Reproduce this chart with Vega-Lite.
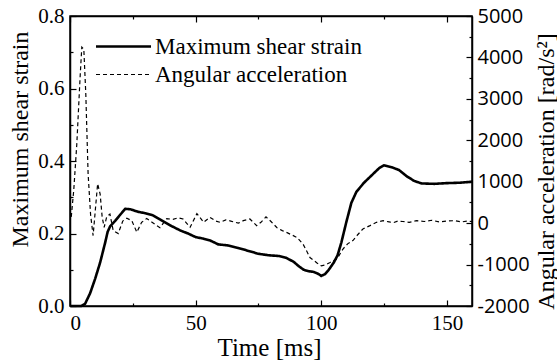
{
  "$schema": "https://vega.github.io/schema/vega-lite/v6.json",
  "width": 402,
  "height": 290,
  "autosize": "none",
  "padding": {"left": 70, "top": 16, "right": 85, "bottom": 58},
  "background": "white",
  "config": {
    "view": {"stroke": "black", "strokeWidth": 1.5},
    "axis": {
      "grid": false,
      "domainColor": "black",
      "domainWidth": 1.5,
      "tickColor": "black",
      "tickWidth": 1.2,
      "labelColor": "black",
      "titleColor": "black",
      "labelFont": "Liberation Serif",
      "titleFont": "Liberation Serif",
      "titleFontWeight": "normal"
    }
  },
  "data": {
    "values": [
      {"series": "Maximum shear strain", "t": 0, "v": 0},
      {"series": "Maximum shear strain", "t": 4.5, "v": 0},
      {"series": "Maximum shear strain", "t": 6, "v": 0.006},
      {"series": "Maximum shear strain", "t": 8, "v": 0.035},
      {"series": "Maximum shear strain", "t": 10, "v": 0.075},
      {"series": "Maximum shear strain", "t": 12, "v": 0.12},
      {"series": "Maximum shear strain", "t": 14, "v": 0.175},
      {"series": "Maximum shear strain", "t": 15, "v": 0.205},
      {"series": "Maximum shear strain", "t": 16, "v": 0.22},
      {"series": "Maximum shear strain", "t": 18, "v": 0.235},
      {"series": "Maximum shear strain", "t": 20, "v": 0.252},
      {"series": "Maximum shear strain", "t": 22, "v": 0.268},
      {"series": "Maximum shear strain", "t": 24, "v": 0.267},
      {"series": "Maximum shear strain", "t": 27, "v": 0.26},
      {"series": "Maximum shear strain", "t": 30, "v": 0.256},
      {"series": "Maximum shear strain", "t": 33, "v": 0.25},
      {"series": "Maximum shear strain", "t": 36, "v": 0.238},
      {"series": "Maximum shear strain", "t": 40, "v": 0.222},
      {"series": "Maximum shear strain", "t": 44, "v": 0.208},
      {"series": "Maximum shear strain", "t": 47, "v": 0.2},
      {"series": "Maximum shear strain", "t": 50, "v": 0.19},
      {"series": "Maximum shear strain", "t": 53, "v": 0.186},
      {"series": "Maximum shear strain", "t": 56, "v": 0.18},
      {"series": "Maximum shear strain", "t": 59, "v": 0.17},
      {"series": "Maximum shear strain", "t": 63, "v": 0.167},
      {"series": "Maximum shear strain", "t": 67, "v": 0.16},
      {"series": "Maximum shear strain", "t": 71, "v": 0.152},
      {"series": "Maximum shear strain", "t": 75, "v": 0.144},
      {"series": "Maximum shear strain", "t": 79, "v": 0.14},
      {"series": "Maximum shear strain", "t": 83, "v": 0.138},
      {"series": "Maximum shear strain", "t": 86, "v": 0.133},
      {"series": "Maximum shear strain", "t": 89, "v": 0.122},
      {"series": "Maximum shear strain", "t": 91, "v": 0.11},
      {"series": "Maximum shear strain", "t": 93, "v": 0.1},
      {"series": "Maximum shear strain", "t": 95, "v": 0.096},
      {"series": "Maximum shear strain", "t": 97, "v": 0.094},
      {"series": "Maximum shear strain", "t": 99, "v": 0.088},
      {"series": "Maximum shear strain", "t": 100, "v": 0.083},
      {"series": "Maximum shear strain", "t": 101.5, "v": 0.088},
      {"series": "Maximum shear strain", "t": 103, "v": 0.1},
      {"series": "Maximum shear strain", "t": 105, "v": 0.12},
      {"series": "Maximum shear strain", "t": 106.5, "v": 0.14},
      {"series": "Maximum shear strain", "t": 108, "v": 0.175},
      {"series": "Maximum shear strain", "t": 110, "v": 0.232},
      {"series": "Maximum shear strain", "t": 112, "v": 0.285},
      {"series": "Maximum shear strain", "t": 114, "v": 0.315},
      {"series": "Maximum shear strain", "t": 117, "v": 0.34},
      {"series": "Maximum shear strain", "t": 120, "v": 0.36},
      {"series": "Maximum shear strain", "t": 123, "v": 0.38},
      {"series": "Maximum shear strain", "t": 125, "v": 0.388},
      {"series": "Maximum shear strain", "t": 128, "v": 0.383},
      {"series": "Maximum shear strain", "t": 131, "v": 0.375},
      {"series": "Maximum shear strain", "t": 134, "v": 0.358},
      {"series": "Maximum shear strain", "t": 137, "v": 0.345},
      {"series": "Maximum shear strain", "t": 140, "v": 0.338},
      {"series": "Maximum shear strain", "t": 145, "v": 0.337},
      {"series": "Maximum shear strain", "t": 150, "v": 0.339},
      {"series": "Maximum shear strain", "t": 155, "v": 0.34},
      {"series": "Maximum shear strain", "t": 160, "v": 0.343},
      {"series": "Angular acceleration", "t": 0.5, "v": 150},
      {"series": "Angular acceleration", "t": 1.5, "v": 800},
      {"series": "Angular acceleration", "t": 2.7, "v": 1900},
      {"series": "Angular acceleration", "t": 4, "v": 3500},
      {"series": "Angular acceleration", "t": 4.7, "v": 4250},
      {"series": "Angular acceleration", "t": 5.5, "v": 4200},
      {"series": "Angular acceleration", "t": 6.3, "v": 3100},
      {"series": "Angular acceleration", "t": 7.2, "v": 1200},
      {"series": "Angular acceleration", "t": 8.2, "v": 200},
      {"series": "Angular acceleration", "t": 9.2, "v": -300},
      {"series": "Angular acceleration", "t": 10.2, "v": 400},
      {"series": "Angular acceleration", "t": 11, "v": 950},
      {"series": "Angular acceleration", "t": 12, "v": 700},
      {"series": "Angular acceleration", "t": 12.8, "v": 150},
      {"series": "Angular acceleration", "t": 13.6, "v": -100},
      {"series": "Angular acceleration", "t": 14.6, "v": 150},
      {"series": "Angular acceleration", "t": 15.9, "v": 220},
      {"series": "Angular acceleration", "t": 17.2, "v": -180},
      {"series": "Angular acceleration", "t": 19.2, "v": -250},
      {"series": "Angular acceleration", "t": 21, "v": 50},
      {"series": "Angular acceleration", "t": 22.6, "v": 120},
      {"series": "Angular acceleration", "t": 24.6, "v": 60},
      {"series": "Angular acceleration", "t": 26.6, "v": -220},
      {"series": "Angular acceleration", "t": 28.5, "v": 20},
      {"series": "Angular acceleration", "t": 30.5, "v": 110},
      {"series": "Angular acceleration", "t": 32.5, "v": 30},
      {"series": "Angular acceleration", "t": 34.5, "v": -60},
      {"series": "Angular acceleration", "t": 35.8, "v": -110},
      {"series": "Angular acceleration", "t": 38.5, "v": 110},
      {"series": "Angular acceleration", "t": 41, "v": 90},
      {"series": "Angular acceleration", "t": 43, "v": 130},
      {"series": "Angular acceleration", "t": 45, "v": 100},
      {"series": "Angular acceleration", "t": 47.8, "v": -100},
      {"series": "Angular acceleration", "t": 50.5, "v": 230},
      {"series": "Angular acceleration", "t": 53.2, "v": 20},
      {"series": "Angular acceleration", "t": 55.7, "v": 140},
      {"series": "Angular acceleration", "t": 58, "v": 50},
      {"series": "Angular acceleration", "t": 59.7, "v": 20},
      {"series": "Angular acceleration", "t": 62, "v": 80},
      {"series": "Angular acceleration", "t": 64, "v": 50},
      {"series": "Angular acceleration", "t": 67, "v": 0},
      {"series": "Angular acceleration", "t": 69, "v": 60},
      {"series": "Angular acceleration", "t": 71.6, "v": 100},
      {"series": "Angular acceleration", "t": 74.3, "v": -60},
      {"series": "Angular acceleration", "t": 76, "v": 20},
      {"series": "Angular acceleration", "t": 78, "v": 150},
      {"series": "Angular acceleration", "t": 80, "v": 40},
      {"series": "Angular acceleration", "t": 82.4, "v": -110},
      {"series": "Angular acceleration", "t": 84.5, "v": -180},
      {"series": "Angular acceleration", "t": 86.4, "v": -230},
      {"series": "Angular acceleration", "t": 88.5, "v": -290},
      {"series": "Angular acceleration", "t": 90.4, "v": -350},
      {"series": "Angular acceleration", "t": 92.7, "v": -500},
      {"series": "Angular acceleration", "t": 94, "v": -650},
      {"series": "Angular acceleration", "t": 95.5, "v": -830},
      {"series": "Angular acceleration", "t": 97, "v": -900},
      {"series": "Angular acceleration", "t": 98.3, "v": -960},
      {"series": "Angular acceleration", "t": 100, "v": -1030},
      {"series": "Angular acceleration", "t": 101.5, "v": -1010},
      {"series": "Angular acceleration", "t": 103.5, "v": -950},
      {"series": "Angular acceleration", "t": 106.3, "v": -860},
      {"series": "Angular acceleration", "t": 108.7, "v": -620},
      {"series": "Angular acceleration", "t": 110.5, "v": -500},
      {"series": "Angular acceleration", "t": 112.6, "v": -420},
      {"series": "Angular acceleration", "t": 114.5, "v": -280},
      {"series": "Angular acceleration", "t": 116.6, "v": -140},
      {"series": "Angular acceleration", "t": 119.4, "v": -60},
      {"series": "Angular acceleration", "t": 122, "v": 20},
      {"series": "Angular acceleration", "t": 124.6, "v": 60},
      {"series": "Angular acceleration", "t": 127, "v": 30},
      {"series": "Angular acceleration", "t": 128.6, "v": 10},
      {"series": "Angular acceleration", "t": 130.5, "v": 50},
      {"series": "Angular acceleration", "t": 132.5, "v": 40},
      {"series": "Angular acceleration", "t": 135, "v": 20},
      {"series": "Angular acceleration", "t": 138, "v": 60},
      {"series": "Angular acceleration", "t": 141, "v": 40},
      {"series": "Angular acceleration", "t": 144, "v": 70},
      {"series": "Angular acceleration", "t": 147, "v": 30},
      {"series": "Angular acceleration", "t": 150, "v": 50},
      {"series": "Angular acceleration", "t": 153, "v": 60},
      {"series": "Angular acceleration", "t": 156, "v": 30},
      {"series": "Angular acceleration", "t": 158, "v": 50},
      {"series": "Angular acceleration", "t": 160, "v": 40}
    ]
  },
  "layer": [
    {
      "transform": [{"filter": "datum.series == 'Maximum shear strain'"}],
      "mark": {"type": "line", "color": "black", "strokeWidth": 2.6},
      "encoding": {
        "x": {
          "field": "t", "type": "quantitative",
          "scale": {"domain": [0, 160], "nice": false},
          "axis": {
            "orient": "bottom",
            "values": [0, 25, 50, 75, 100, 125, 150],
            "labelExpr": "datum.value % 50 == 0 ? '' + datum.value : ''",
            "labelFontSize": 21,
            "tickSize": {"condition": {"test": "datum.value % 50 != 0", "value": -3}, "value": -6},
            "labelPadding": 12,
            "title": "Time [ms]",
            "titleFontSize": 25,
            "titleX": 199,
            "titleY": 41,
            "titleBaseline": "middle",
            "titleAlign": "center"
          }
        },
        "y": {
          "field": "v", "type": "quantitative",
          "scale": {"domain": [0, 0.8], "nice": false},
          "axis": {
            "orient": "left",
            "values": [0, 0.1, 0.2, 0.3, 0.4, 0.5, 0.6, 0.7, 0.8],
            "labelExpr": "round(datum.value * 10) % 2 == 0 ? format(datum.value, '.1f') : ''",
            "labelFontSize": 21,
            "tickSize": {"condition": {"test": "round(datum.value * 10) % 2 == 1", "value": -3}, "value": -6},
            "labelPadding": 12,
            "title": "Maximum shear strain",
            "titleFontSize": 24,
            "titleAngle": -90,
            "titleX": -50,
            "titleY": 123,
            "titleBaseline": "middle",
            "titleAlign": "center"
          }
        },
        "strokeDash": {
          "field": "series", "type": "nominal",
          "scale": {"domain": ["Maximum shear strain", "Angular acceleration"], "range": [[1, 0], [4, 3]]},
          "legend": {
            "title": null,
            "orient": "none",
            "legendX": 42,
            "legendY": 19,
            "symbolType": "stroke",
            "symbolSize": 3025,
            "symbolStrokeColor": "black",
            "labelFont": "Liberation Serif",
            "labelFontSize": 23,
            "labelColor": "black",
            "labelLimit": 0,
            "labelOffset": 20,
            "rowPadding": 4,
            "encode": {
              "symbols": {"update": {"strokeWidth": {"signal": "datum.value == 'Maximum shear strain' ? 2.6 : 1.2"}}}
            }
          }
        }
      }
    },
    {
      "transform": [{"filter": "datum.series == 'Angular acceleration'"}],
      "mark": {"type": "line", "color": "black", "strokeWidth": 1.2},
      "encoding": {
        "x": {
          "field": "t", "type": "quantitative",
          "scale": {"domain": [0, 160], "nice": false},
          "axis": {
            "orient": "top",
            "values": [0, 25, 50, 75, 100, 125, 150],
            "labels": false,
            "tickSize": {"condition": {"test": "datum.value % 50 != 0", "value": -3}, "value": -6},
            "title": null
          }
        },
        "y": {
          "field": "v", "type": "quantitative",
          "scale": {"domain": [-2000, 5000], "nice": false},
          "axis": {
            "orient": "right",
            "values": [-2000, -1500, -1000, -500, 0, 500, 1000, 1500, 2000, 2500, 3000, 3500, 4000, 4500, 5000],
            "labelExpr": "datum.value % 1000 == 0 ? '' + datum.value : ''",
            "labelFont": "Open Sans",
            "labelFontSize": 20,
            "tickSize": {"condition": {"test": "datum.value % 1000 != 0", "value": -3}, "value": -6},
            "labelPadding": 11,
            "title": "Angular acceleration [rad/s²]",
            "titleFontSize": 24,
            "titleAngle": -90,
            "titleX": 74,
            "titleY": 155,
            "titleBaseline": "middle",
            "titleAlign": "center"
          }
        },
        "strokeDash": {"field": "series", "type": "nominal"}
      }
    }
  ],
  "resolve": {"scale": {"y": "independent", "x": "independent"}}
}
